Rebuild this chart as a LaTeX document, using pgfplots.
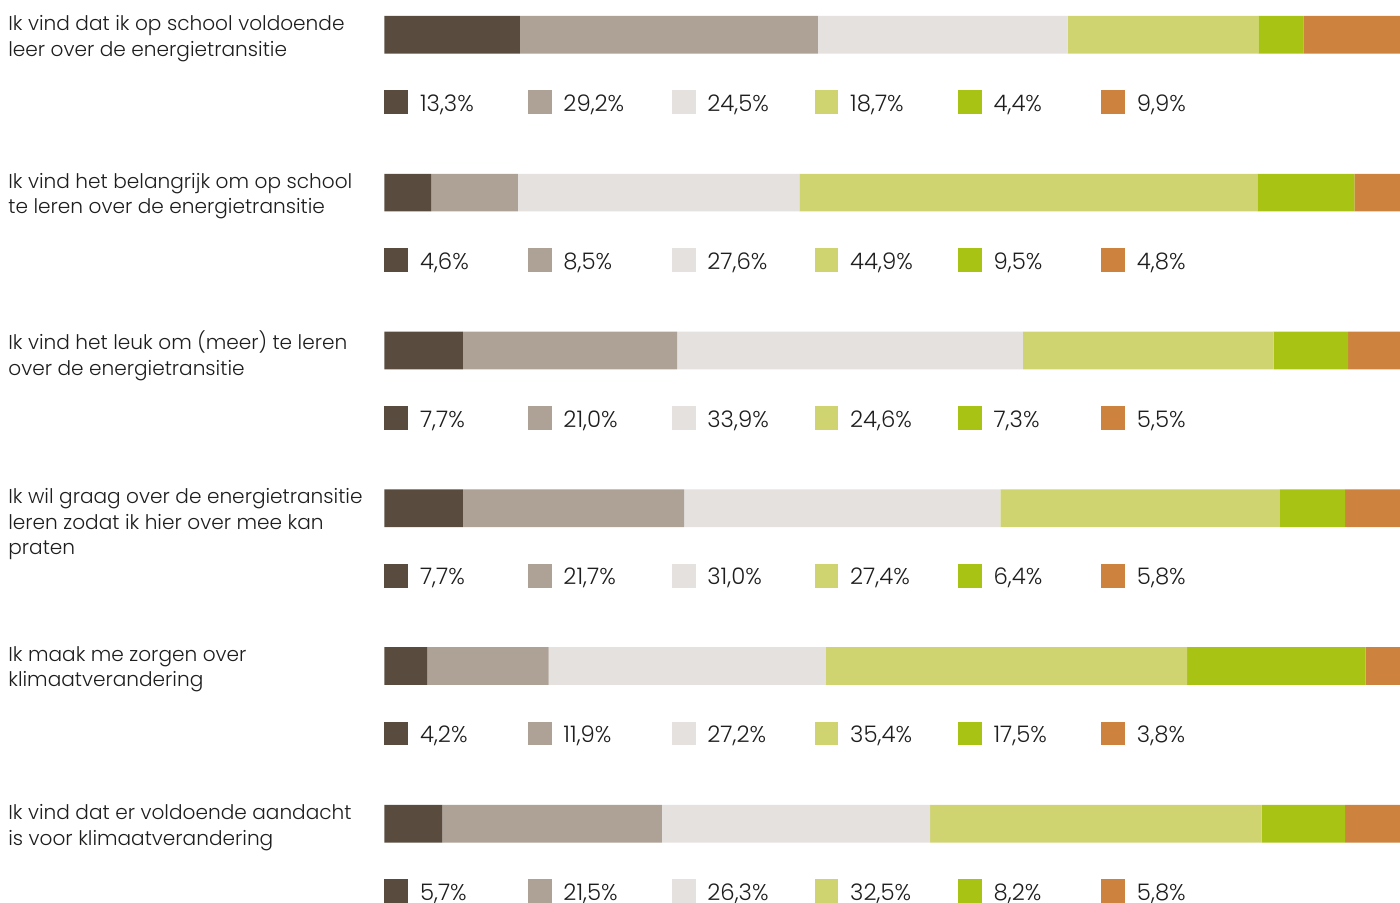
\documentclass[border=0pt]{standalone}
\usepackage{pgfplots}
\pgfplotsset{compat=1.18}
\usepackage{pgfplotstable}
\usepackage{fontspec}
\setmainfont{Poppins}[UprightFont=* Light]
\definecolor{cA}{HTML}{594B3E}
\definecolor{cB}{HTML}{ADA295}
\definecolor{cC}{HTML}{E5E1DE}
\definecolor{cD}{HTML}{CFD470}
\definecolor{cE}{HTML}{A9C315}
\definecolor{cF}{HTML}{CD833D}
\definecolor{txt}{HTML}{1E1E1E}

% y: bar centre (px), ly: legend row centre (px), a-f: percentages
\pgfplotstableread{
y     ly    a    b    c    d    e    f
34.8  102.3 13.3 29.2 24.5 18.7 4.4  9.9
192.6 260.1 4.6  8.5  27.6 44.9 9.5  4.8
350.4 417.9 7.7  21.0 33.9 24.6 7.3  5.5
508.2 575.7 7.7  21.7 31.0 27.4 6.4  5.8
666.0 733.5 4.2  11.9 27.2 35.4 17.5 3.8
823.8 891.3 5.7  21.5 26.3 32.5 8.2  5.8
}\data

\pgfplotsset{
  base/.style={
    width=700pt, height=451pt, scale only axis,
    xmin=-37.68, xmax=99.58, ymin=0, ymax=902, y dir=reverse,
    axis lines=none, clip=false,
  },
  leg/.style={
    color=#1, only marks, mark=square*, mark size=5.7pt,
    mark options={draw=#1, line width=0pt, fill=#1},
    nodes near coords={\pgfmathprintnumber{\pgfplotspointmeta}\%},
    point meta=explicit,
    every node near coord/.append style={
      anchor=base west, inner sep=0pt, xshift=11.85pt, yshift=-4.6pt,
      text=txt, font=\fontsize{11.4}{13}\selectfont},
  },
}

\begin{document}
\begin{tikzpicture}
\begin{axis}[base, name=ax, xbar stacked, bar width=37.7]
  \addplot[fill=cA, draw=none] table[x=a, y=y] {\data};
  \addplot[fill=cB, draw=none] table[x=b, y=y] {\data};
  \addplot[fill=cC, draw=none] table[x=c, y=y] {\data};
  \addplot[fill=cD, draw=none] table[x=d, y=y] {\data};
  \addplot[fill=cE, draw=none] table[x=e, y=y] {\data};
  \addplot[fill=cF, draw=none] table[x=f, y=y] {\data};
\end{axis}
\begin{axis}[base,
  /pgf/number format/.cd, fixed, fixed zerofill, precision=1, use comma, assume math mode=true]
  \addplot[leg=cA] table[x expr=1.18,  y=ly, meta=a] {\data};
  \addplot[leg=cB] table[x expr=15.24, y=ly, meta=b] {\data};
  \addplot[leg=cC] table[x expr=29.35, y=ly, meta=c] {\data};
  \addplot[leg=cD] table[x expr=43.35, y=ly, meta=d] {\data};
  \addplot[leg=cE] table[x expr=57.41, y=ly, meta=e] {\data};
  \addplot[leg=cF] table[x expr=71.47, y=ly, meta=f] {\data};
  \begin{scope}[every node/.style={anchor=north west, align=left, inner sep=0pt,
      text=txt, font=\fontsize{10.05}{12.75}\selectfont}]
  \node at (axis cs:-36.90,15.0) {Ik vind dat ik op school voldoende\\leer over de energietransitie};
  \node at (axis cs:-36.90,172.8) {Ik vind het belangrijk om op school\\te leren over de energietransitie};
  \node at (axis cs:-36.90,330.6) {Ik vind het leuk om (meer) te leren\\over de energietransitie};
  \node at (axis cs:-36.90,488.4) {Ik wil graag over de energietransitie\\leren zodat ik hier over mee kan\\praten};
  \node at (axis cs:-36.90,646.2) {Ik maak me zorgen over\\klimaatverandering};
  \node at (axis cs:-36.90,804.0) {Ik vind dat er voldoende aandacht\\is voor klimaatverandering};
  \end{scope}
\end{axis}
\pgfresetboundingbox
\path[use as bounding box] (ax.south west) rectangle (ax.north east);
\end{tikzpicture}
\end{document}
